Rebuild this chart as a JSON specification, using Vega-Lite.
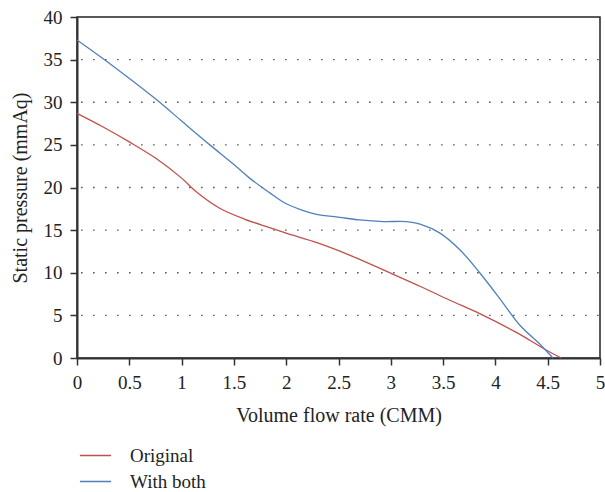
{
  "$schema": "https://vega.github.io/schema/vega-lite/v6.json",
  "autosize": "none",
  "width": 523,
  "height": 341,
  "padding": {"left": 77, "top": 17, "right": 5, "bottom": 134},
  "background": "white",
  "config": {
    "font": "Liberation Serif",
    "view": {"stroke": "#222", "strokeWidth": 1.5},
    "axis": {
      "labelFont": "Liberation Serif",
      "titleFont": "Liberation Serif",
      "labelFontSize": 19,
      "titleFontSize": 20,
      "labelColor": "#222",
      "titleColor": "#222",
      "titleFontWeight": "normal",
      "domainColor": "#333",
      "domainWidth": 2,
      "tickColor": "#333",
      "tickWidth": 1.5,
      "tickSize": 7
    },
    "legend": {
      "labelFont": "Liberation Serif",
      "labelFontSize": 19,
      "labelColor": "#222",
      "padding": 0
    }
  },
  "data": {
    "values": [
      {"series": "Original", "x": 0, "y": 28.7},
      {"series": "Original", "x": 0.25, "y": 27.1},
      {"series": "Original", "x": 0.5, "y": 25.35},
      {"series": "Original", "x": 0.75, "y": 23.45},
      {"series": "Original", "x": 1.0, "y": 21.1},
      {"series": "Original", "x": 1.14, "y": 19.5},
      {"series": "Original", "x": 1.36, "y": 17.6},
      {"series": "Original", "x": 1.6, "y": 16.3},
      {"series": "Original", "x": 1.84, "y": 15.3},
      {"series": "Original", "x": 2.0, "y": 14.65},
      {"series": "Original", "x": 2.3, "y": 13.5},
      {"series": "Original", "x": 2.6, "y": 12.1},
      {"series": "Original", "x": 3.0, "y": 9.95},
      {"series": "Original", "x": 3.3, "y": 8.3},
      {"series": "Original", "x": 3.56, "y": 6.8},
      {"series": "Original", "x": 3.85, "y": 5.2},
      {"series": "Original", "x": 4.2, "y": 3.0},
      {"series": "Original", "x": 4.48, "y": 0.97},
      {"series": "Original", "x": 4.63, "y": 0},
      {"series": "With both", "x": 0, "y": 37.3},
      {"series": "With both", "x": 0.25, "y": 35.1},
      {"series": "With both", "x": 0.52, "y": 32.6},
      {"series": "With both", "x": 0.79, "y": 30.0},
      {"series": "With both", "x": 1.0, "y": 27.8},
      {"series": "With both", "x": 1.27, "y": 25.0},
      {"series": "With both", "x": 1.5, "y": 22.7},
      {"series": "With both", "x": 1.65, "y": 21.1},
      {"series": "With both", "x": 1.84, "y": 19.4},
      {"series": "With both", "x": 1.97, "y": 18.3},
      {"series": "With both", "x": 2.15, "y": 17.35},
      {"series": "With both", "x": 2.29, "y": 16.85},
      {"series": "With both", "x": 2.51, "y": 16.5},
      {"series": "With both", "x": 2.7, "y": 16.2},
      {"series": "With both", "x": 2.93, "y": 16.0},
      {"series": "With both", "x": 3.15, "y": 16.0},
      {"series": "With both", "x": 3.28, "y": 15.7},
      {"series": "With both", "x": 3.47, "y": 14.65},
      {"series": "With both", "x": 3.66, "y": 12.7},
      {"series": "With both", "x": 3.85, "y": 10.0},
      {"series": "With both", "x": 4.04, "y": 7.0},
      {"series": "With both", "x": 4.23, "y": 3.9},
      {"series": "With both", "x": 4.43, "y": 1.56},
      {"series": "With both", "x": 4.55, "y": 0}
    ]
  },
  "layer": [
    {
      "mark": {"type": "rule", "color": "#333", "strokeWidth": 1.3, "strokeDash": [1.3, 10.7], "strokeDashOffset": -1.5},
      "data": {"values": [{"g": 5}, {"g": 10}, {"g": 15}, {"g": 20}, {"g": 25}, {"g": 30}, {"g": 35}]},
      "encoding": {
        "y": {"field": "g", "type": "quantitative", "scale": {"domain": [0, 40]}}
      }
    },
    {
      "mark": {"type": "line", "interpolate": "catmull-rom", "strokeWidth": 1.3},
      "encoding": {
        "x": {
          "field": "x", "type": "quantitative",
          "scale": {"domain": [0, 5], "nice": false},
          "axis": {"values": [0, 0.5, 1, 1.5, 2, 2.5, 3, 3.5, 4, 4.5, 5], "format": "~g", "grid": false, "labelPadding": 8, "title": "Volume flow rate (CMM)", "titlePadding": 13, "labelFlush": false}
        },
        "y": {
          "field": "y", "type": "quantitative",
          "scale": {"domain": [0, 40], "nice": false},
          "axis": {"values": [0, 5, 10, 15, 20, 25, 30, 35, 40], "grid": false, "labelPadding": 8, "title": "Static pressure (mmAq)", "titlePadding": 13, "labelFlush": false}
        },
        "color": {
          "field": "series", "type": "nominal",
          "scale": {"domain": ["Original", "With both"], "range": ["#c0504d", "#4f81bd"]},
          "legend": {"title": null, "orient": "none", "legendX": 9, "legendY": 429, "symbolType": "M-3,0H3", "symbolSize": 108, "symbolStrokeWidth": 1.3, "labelOffset": 25, "rowPadding": 6}
        }
      }
    }
  ]
}
